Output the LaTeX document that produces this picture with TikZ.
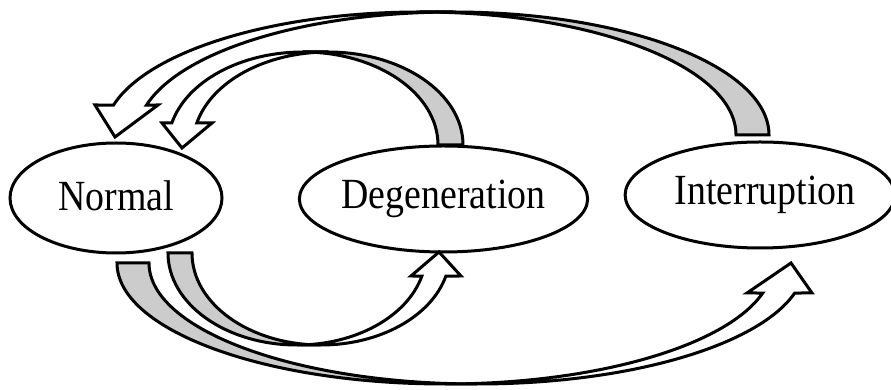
\documentclass[tikz,border=0pt]{standalone}
\usepackage{fontspec}
\setmainfont{Liberation Serif}
\usetikzlibrary{shapes.geometric}

\tikzset{
  state/.style={ellipse, draw, line width=3pt, inner sep=0pt,
    font=\fontsize{43}{48}\selectfont},
  ribbonback/.style={fill=black!20, draw, line width=3pt},
  ribbonfront/.style={fill=white, draw, line width=3pt},
}
\newcommand{\lbl}[1]{\raisebox{4pt}{\scalebox{0.88}[1]{#1}}}

\begin{document}
\begin{tikzpicture}[x=1pt,y=1pt]
\useasboundingbox (0,0) rectangle (891,390);

% states
\node[state, minimum width=212pt, minimum height=110pt] (normal) at (116,192) {\lbl{Normal}};
\node[state, minimum width=273pt, minimum height=106pt] (degen)  at (443.5,191) {\lbl{Degeneration}};
\node[state, minimum width=258pt, minimum height=106pt] (inter)  at (760,195) {\hspace*{10pt}\lbl{Interruption}};

% Degeneration -> Normal (upper, small)
\filldraw[ribbonback] (463,245) arc[start angle=0, end angle=90, x radius=135pt, y radius=93pt]
  -- (303,338) arc[start angle=90, end angle=0, x radius=135pt, y radius=93pt] -- cycle;
\filldraw[ribbonfront] (303,338) arc[start angle=90, end angle=166.3, x radius=135pt, y radius=93pt]
  -- (162,267) -- (182,242) -- (212,267)
  -- ([shift={(328,245)}]166.3:135pt and 93pt)
  arc[start angle=166.3, end angle=90, x radius=135pt, y radius=93pt] -- cycle;

% Interruption -> Normal (upper, large)
\filldraw[ribbonback] (769,255) arc[start angle=0, end angle=90, x radius=316pt, y radius=123pt]
  -- (420,378) arc[start angle=90, end angle=0, x radius=316pt, y radius=123pt] -- cycle;
\filldraw[ribbonfront] (420,378) arc[start angle=90, end angle=165.9, x radius=316pt, y radius=123pt]
  -- (95,285) -- (115,253) -- (158,285)
  -- ([shift={(453,255)}]165.9:316pt and 123pt)
  arc[start angle=165.9, end angle=90, x radius=316pt, y radius=123pt] -- cycle;

% Normal -> Degeneration (lower, small)
\filldraw[ribbonback] (168,137) arc[start angle=180, end angle=270, x radius=129pt, y radius=92pt]
  -- (321,45) arc[start angle=270, end angle=180, x radius=129pt, y radius=92pt] -- cycle;
\filldraw[ribbonfront] (297,45) -- (321,45) arc[start angle=270, end angle=345.5, x radius=129pt, y radius=92pt]
  -- (461,114) -- (439,138) -- (411,114)
  -- ([shift={(297,137)}]345.5:129pt and 92pt)
  arc[start angle=345.5, end angle=270, x radius=129pt, y radius=92pt] -- cycle;

% Normal -> Interruption (lower, large)
\filldraw[ribbonback] (117,127) arc[start angle=180, end angle=270, x radius=328pt, y radius=121pt]
  -- (477,6) arc[start angle=270, end angle=180, x radius=328pt, y radius=121pt] -- cycle;
\filldraw[ribbonfront] (445,6) -- (477,6) arc[start angle=270, end angle=345.64, x radius=328pt, y radius=121pt]
  -- (812,97) -- (791,127) -- (747,97)
  -- ([shift={(445,127)}]345.64:328pt and 121pt)
  arc[start angle=345.64, end angle=270, x radius=328pt, y radius=121pt] -- cycle;
\end{tikzpicture}
\end{document}
